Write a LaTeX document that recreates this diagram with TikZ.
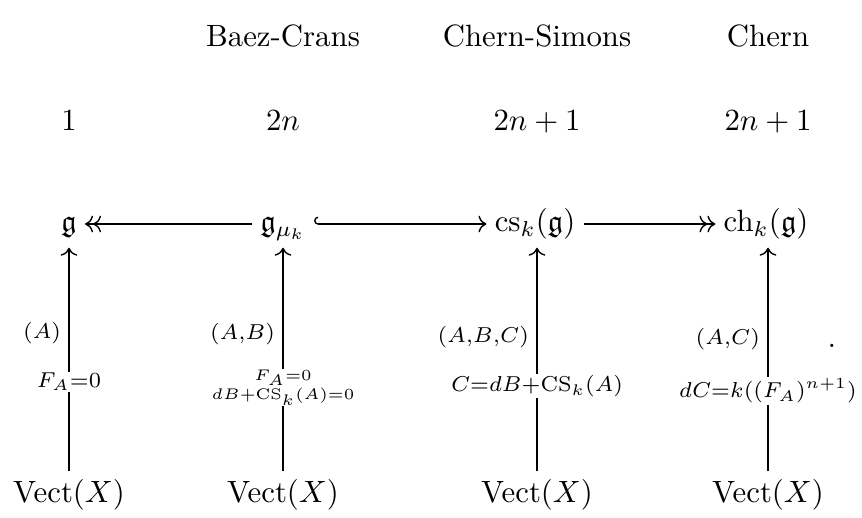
\documentclass[tikz,border=0pt]{standalone}
\usepackage{amsmath,amssymb}
\usetikzlibrary{arrows.meta}
\begin{document}
\begin{tikzpicture}[x=0.3247pt,y=-0.3247pt,
  >={Computer Modern Rightarrow[]},
  obj/.style={inner sep=2.5pt, text height=7.5pt, text depth=2.5pt},
  head/.style={anchor=base, inner sep=0pt},
  ar/.style={line width=0.45pt},
  lab/.style={font=\scriptsize, left, inner sep=2.4pt},
  mid/.style={fill=white, inner sep=0.4pt},
  tinylab/.style={fill=white, inner sep=0.4pt, font=\tiny, align=center}]
\useasboundingbox (0,0) rectangle (862,517);
% headers
\node[head] (h2) at (283,46) {Baez-Crans};
\node[head] (h3) at (537,46) {Chern-Simons};
\node[head] (h4) at (768,46) {Chern};
% numbers
\node[head] (n1) at (69,130) {$1$};
\node[head] (n2) at (283,130) {$2n$};
\node[head] (n3) at (537,130) {$2n+1$};
\node[head] (n4) at (768,130) {$2n+1$};
% main row
\node[obj] (g) at (69,224) {$\mathfrak g$};
\node[obj] (gm) at (283,224) {$\mathfrak g_{\mu_k}$};
\node[obj] (cs) at (535,224) {$\mathrm{cs}_k(\mathfrak g)$};
\node[obj] (ch) at (766,224) {$\mathrm{ch}_k(\mathfrak g)$};
% bottom row
\node[obj] (v1) at (69,495) {$\mathrm{Vect}(X)$};
\node[obj] (v2) at (283,495) {$\mathrm{Vect}(X)$};
\node[obj] (v3) at (537,495) {$\mathrm{Vect}(X)$};
\node[obj] (v4) at (768,495) {$\mathrm{Vect}(X)$};
\node[head] (dot) at (832,347) {.};
% horizontal arrows
\draw[ar,->>] (gm) -- (g);
\draw[ar,{Hooks[right]}->] (gm) -- (cs);
\draw[ar,->>] (cs) -- (ch);
% vertical arrows
\draw[ar,->] (v1) -- (v1|-g.south)
  node[lab,pos=0.62] {$(A)$}
  node[mid,pos=0.40] {$\scriptstyle F_A=0$};
\draw[ar,->] (v2) -- (gm)
  node[lab,pos=0.615] {$(A{,}B)$}
  node[tinylab,pos=0.375] {$\scriptscriptstyle F_A=0$\\[0.3pt]$\scriptscriptstyle dB+\mathrm{CS}_k(A)=0$};
\draw[ar,->] (v3) -- (v3|-cs.south)
  node[lab,pos=0.60] {$(A{,}B{,}C)$}
  node[mid,pos=0.38] {$\scriptstyle C=dB+\mathrm{CS}_k(A)$};
\draw[ar,->] (v4) -- (v4|-ch.south)
  node[lab,pos=0.59] {$(A{,}C)$}
  node[mid,pos=0.36] {$\scriptstyle dC=k((F_A)^{n+1})$};
\end{tikzpicture}
\end{document}
